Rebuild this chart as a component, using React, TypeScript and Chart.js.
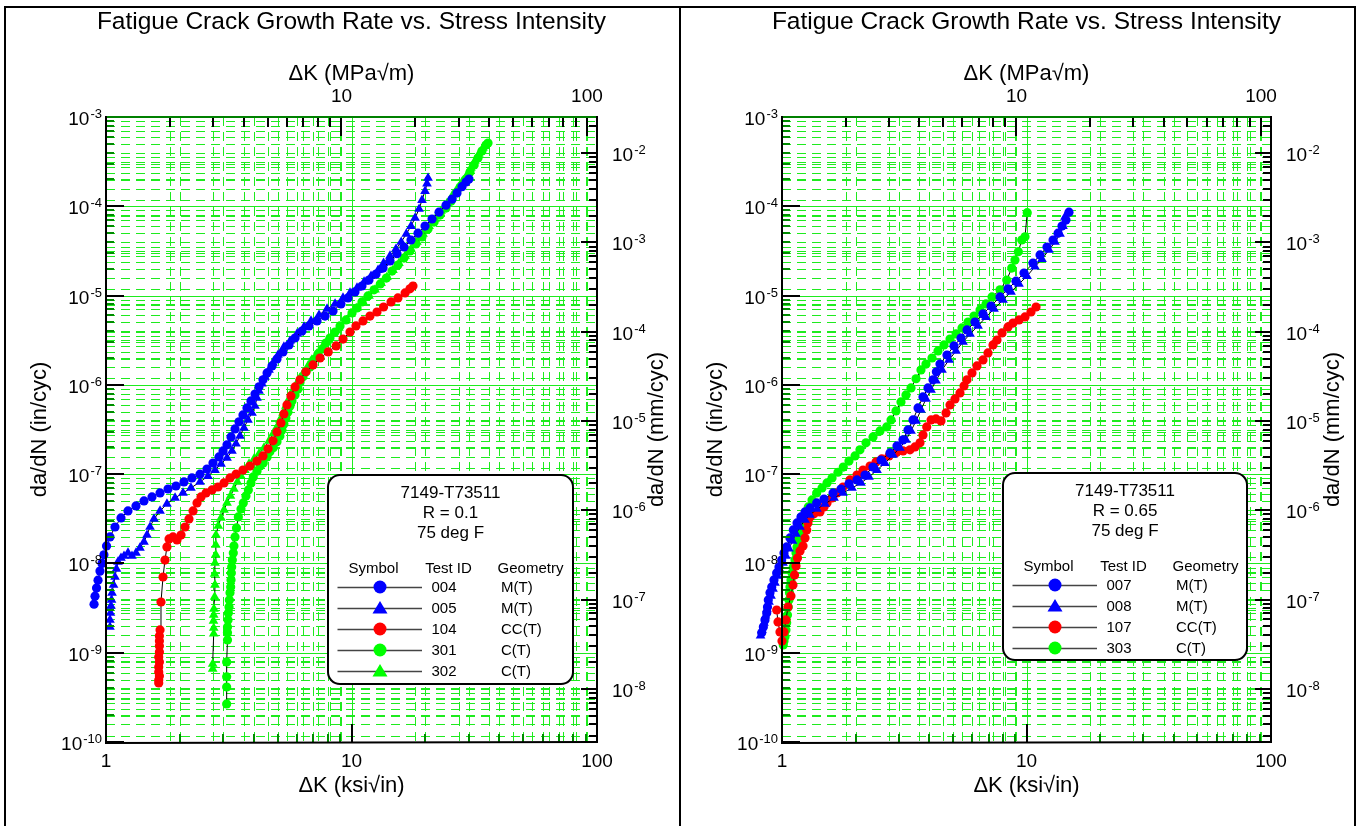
import React, { useEffect, useRef } from 'react';
import { Chart, registerables } from 'chart.js';

Chart.register(...registerables);

const FONT = "'Liberation Sans', Arial, Helvetica, sans-serif";
Chart.defaults.font.family = FONT;

// ---------- axes ----------
const KSI_TO_MPA = 1.0988; // 1 ksi*sqrt(in) = 1.0988 MPa*sqrt(m)
const IN_TO_MM = 25.4;
const K_MIN = 1;
const K_MAX = 100;
const DADN_MIN = 1e-10;
const DADN_MAX = 1e-3;
const TITLE = 'Fatigue Crack Growth Rate vs. Stress Intensity';

const ksiTicks = [1, 2, 3, 4, 5, 6, 7, 8, 9, 10, 20, 30, 40, 50, 60, 70, 80, 90, 100];
const mpaTicks = [2, 3, 4, 5, 6, 7, 8, 9, 10, 20, 30, 40, 50, 60, 70, 80, 90, 100];
const ksiLabels = [1, 10, 100];
const mpaLabels = [10, 100];
const inDecades = [1e-10, 1e-9, 1e-8, 1e-7, 1e-6, 1e-5, 1e-4];
const mmDecades = [1e-9, 1e-8, 1e-7, 1e-6, 1e-5, 1e-4, 1e-3, 1e-2];
const decadeSteps = [1, 2, 3, 4, 5, 6, 7, 8, 9];
const inLabelExp = [-10, -9, -8, -7, -6, -5, -4, -3];
const mmLabelExp = [-8, -7, -6, -5, -4, -3, -2];

// ---------- data: [deltaK (ksi*sqrt(in)), da/dN (in/cycle)] ----------
// R = 0.1
const s004: [number, number][] = [[0.894,3.5e-9],[0.902,4.3e-9],[0.915,5.3e-9],[0.928,6.5e-9],[0.945,8.2e-9],[0.963,1.0e-8],[0.981,1.25e-8],[1.005,1.57e-8],[1.038,1.98e-8],[1.088,2.56e-8],[1.151,3.23e-8],[1.229,3.87e-8],[1.325,4.41e-8],[1.428,5.01e-8],[1.539,5.56e-8],[1.66,6.16e-8],[1.789,6.82e-8],[1.928,7.37e-8],[2.078,8.18e-8],[2.24,9.06e-8],[2.415,1.0e-7],[2.578,1.14e-7],[2.728,1.33e-7],[2.886,1.56e-7],[2.997,1.82e-7],[3.111,2.13e-7],[3.23,2.61e-7],[3.354,3.21e-7],[3.481,3.85e-7],[3.614,4.6e-7],[3.752,5.52e-7],[3.896,6.61e-7],[4.045,7.9e-7],[4.2,9.5e-7],[4.36,1.14e-6],[4.53,1.36e-6],[4.745,1.63e-6],[4.972,1.95e-6],[5.26,2.34e-6],[5.565,2.8e-6],[5.888,3.35e-6],[6.286,4.0e-6],[6.713,4.57e-6],[7.236,5.2e-6],[7.8,5.9e-6],[8.408,6.72e-6],[9.06,8.06e-6],[9.68,9.4e-6],[10.33,1.1e-5],[11.03,1.28e-5],[11.78,1.49e-5],[12.59,1.74e-5],[13.44,2.03e-5],[14.35,2.44e-5],[15.32,2.94e-5],[16.36,3.5e-5],[17.47,4.19e-5],[18.66,5.0e-5],[19.93,6.0e-5],[21.28,7.2e-5],[22.72,8.6e-5],[24.26,1.03e-4],[25.67,1.2e-4],[26.9,1.41e-4],[28.19,1.66e-4],[29.27,1.87e-4],[30.1,2.02e-4]];
const s005: [number, number][] = [[1.038,1.94e-9],[1.038,2.33e-9],[1.043,2.79e-9],[1.048,3.35e-9],[1.053,3.9e-9],[1.058,4.68e-9],[1.073,5.74e-9],[1.088,7.05e-9],[1.103,8.68e-9],[1.119,1.04e-8],[1.151,1.15e-8],[1.184,1.21e-8],[1.229,1.31e-8],[1.276,1.21e-8],[1.325,1.31e-8],[1.375,1.49e-8],[1.428,1.74e-8],[1.469,2.08e-8],[1.511,2.56e-8],[1.569,3.15e-8],[1.66,3.87e-8],[1.771,4.64e-8],[1.911,5.41e-8],[2.059,6.16e-8],[2.218,7.0e-8],[2.415,8.18e-8],[2.603,9.5e-8],[2.781,1.11e-7],[2.941,1.3e-7],[3.111,1.52e-7],[3.259,1.82e-7],[3.385,2.19e-7],[3.513,2.68e-7],[3.647,3.3e-7],[3.788,4.05e-7],[3.933,4.85e-7],[4.045,5.8e-7],[4.121,7.14e-7],[4.2,8.55e-7],[4.318,1.03e-6],[4.44,1.23e-6],[4.613,1.47e-6],[4.79,1.76e-6],[5.019,2.16e-6],[5.305,2.66e-6],[5.617,3.1e-6],[5.998,3.72e-6],[6.405,4.45e-6],[6.84,5.2e-6],[7.373,6.06e-6],[7.95,7.08e-6],[8.57,8.06e-6],[9.235,9.4e-6],[9.86,1.07e-5],[10.53,1.22e-5],[11.25,1.42e-5],[12.01,1.65e-5],[12.83,1.93e-5],[13.51,2.31e-5],[14.35,2.78e-5],[15.18,3.32e-5],[15.94,3.98e-5],[16.72,4.9e-5],[17.47,6.0e-5],[18.15,7.38e-5],[18.85,9.32e-5],[19.37,1.17e-4],[19.93,1.48e-4],[20.3,1.79e-4],[20.5,2.07e-4]];
const s104: [number, number][] = [[1.64,4.58e-10],[1.64,4.95e-10],[1.65,5.5e-10],[1.64,6.09e-10],[1.64,6.92e-10],[1.65,7.88e-10],[1.64,8.96e-10],[1.65,1.02e-9],[1.65,1.19e-9],[1.65,1.35e-9],[1.65,1.54e-9],[1.66,1.8e-9],[1.675,3.7e-9],[1.707,7.05e-9],[1.739,1.09e-8],[1.771,1.53e-8],[1.806,1.88e-8],[1.875,1.98e-8],[1.946,1.83e-8],[2.021,2.08e-8],[2.099,2.56e-8],[2.178,3.15e-8],[2.262,3.87e-8],[2.348,4.76e-8],[2.437,5.56e-8],[2.556,6.16e-8],[2.703,6.65e-8],[2.858,7.18e-8],[3.025,7.97e-8],[3.2,9.06e-8],[3.385,1.0e-7],[3.614,1.11e-7],[3.858,1.23e-7],[4.121,1.4e-7],[4.36,1.6e-7],[4.571,1.92e-7],[4.79,2.36e-7],[4.972,2.97e-7],[5.16,3.75e-7],[5.305,4.73e-7],[5.459,5.96e-7],[5.669,7.51e-7],[5.888,9.47e-7],[6.169,1.14e-6],[6.523,1.4e-6],[6.968,1.67e-6],[7.444,2.0e-6],[8.04,2.34e-6],[8.66,2.73e-6],[9.235,3.26e-6],[9.86,3.91e-6],[10.43,4.57e-6],[11.14,5.2e-6],[11.89,5.9e-6],[12.7,6.55e-6],[13.51,7.45e-6],[14.49,8.48e-6],[15.46,9.4e-6],[16.53,1.07e-5],[17.3,1.19e-5],[17.8,1.28e-5]];
const s301: [number, number][] = [[3.101,2.67e-10],[3.101,4.13e-10],[3.101,5.37e-10],[3.101,7.88e-10],[3.125,1.39e-9],[3.125,1.67e-9],[3.125,1.94e-9],[3.141,2.33e-9],[3.15,2.79e-9],[3.17,3.25e-9],[3.18,3.9e-9],[3.2,4.68e-9],[3.22,5.45e-9],[3.23,6.53e-9],[3.24,7.83e-9],[3.25,9.14e-9],[3.27,1.09e-8],[3.3,1.31e-8],[3.32,1.57e-8],[3.354,1.98e-8],[3.4,2.5e-8],[3.46,3.32e-8],[3.547,4.07e-8],[3.624,4.76e-8],[3.716,5.7e-8],[3.8,6.65e-8],[3.896,7.97e-8],[3.98,9.3e-8],[4.121,1.08e-7],[4.24,1.23e-7],[4.37,1.33e-7],[4.53,1.56e-7],[4.65,1.78e-7],[4.8,1.97e-7],[4.972,2.3e-7],[5.11,2.68e-7],[5.21,3.13e-7],[5.305,3.65e-7],[5.405,4.26e-7],[5.51,4.98e-7],[5.617,5.8e-7],[5.722,6.6e-7],[5.888,7.71e-7],[6.06,9.0e-7],[6.169,1.06e-6],[6.345,1.23e-6],[6.523,1.4e-6],[6.776,1.59e-6],[7.0,1.9e-6],[7.3,2.22e-6],[7.59,2.52e-6],[7.86,2.94e-6],[8.17,3.35e-6],[8.57,3.91e-6],[8.98,4.57e-6],[9.5,5.33e-6],[10.05,6.39e-6],[10.53,7.26e-6],[11.03,8.48e-6],[11.67,9.9e-6],[12.36,1.16e-5],[13.1,1.35e-5],[13.87,1.57e-5],[14.62,1.88e-5],[15.46,2.2e-5],[16.36,2.63e-5],[17.3,3.16e-5],[18.3,3.78e-5],[19.37,4.53e-5],[20.5,5.56e-5],[21.7,6.66e-5],[22.95,7.97e-5],[24.26,9.56e-5],[25.43,1.14e-4],[26.65,1.41e-4],[27.95,1.69e-4],[29.27,2.02e-4],[30.39,2.42e-4],[31.6,2.9e-4],[32.76,3.47e-4],[34.0,4.16e-4],[35.31,4.86e-4],[35.98,5.11e-4]];
const s302: [number, number][] = [[2.72,6.58e-10],[2.72,7.5e-10],[2.746,1.63e-9],[2.746,1.89e-9],[2.74,2.27e-9],[2.746,2.65e-9],[2.752,3.09e-9],[2.77,4.21e-9],[2.78,5.74e-9],[2.77,7.63e-9],[2.78,1.01e-8],[2.8,1.25e-8],[2.8,1.61e-8],[2.805,2.08e-8],[2.866,2.63e-8],[2.941,3.23e-8],[3.025,3.97e-8],[3.111,4.76e-8],[3.214,5.7e-8],[3.32,6.82e-8],[3.43,8.18e-8],[3.547,9.5e-8],[3.68,1.11e-7],[3.825,1.3e-7],[4.008,1.48e-7],[4.2,1.69e-7],[4.4,1.97e-7],[4.613,2.36e-7],[4.79,2.83e-7],[4.972,3.38e-7],[5.11,4.05e-7],[5.26,4.85e-7],[5.405,5.8e-7],[5.565,6.96e-7],[5.722,8.33e-7],[5.943,1.0e-6],[6.169,1.2e-6],[6.405,1.4e-6],[6.65,1.63e-6],[6.9,1.9e-6],[7.236,2.22e-6],[7.59,2.59e-6],[7.95,3.1e-6],[8.408,3.72e-6],[8.88,4.34e-6],[9.41,5.2e-6],[9.95,6.23e-6],[10.53,7.26e-6],[11.14,8.48e-6],[11.78,9.9e-6],[12.47,1.16e-5],[13.2,1.38e-5],[13.94,1.61e-5],[14.75,1.93e-5],[15.6,2.31e-5],[16.53,2.78e-5],[17.47,3.32e-5],[18.48,3.98e-5],[19.56,4.9e-5],[20.7,6.0e-5],[21.9,7.2e-5],[23.16,8.85e-5],[24.49,1.08e-4],[25.67,1.3e-4],[26.9,1.56e-4],[28.19,1.87e-4],[29.54,2.24e-4],[30.63,2.68e-4],[31.8,3.22e-4],[33.0,3.85e-4],[34.3,4.5e-4]];

// R = 0.65
const s007: [number, number][] = [[0.826,1.67e-9],[0.839,1.94e-9],[0.852,2.33e-9],[0.866,2.79e-9],[0.872,3.25e-9],[0.879,3.9e-9],[0.893,4.68e-9],[0.908,5.45e-9],[0.927,6.53e-9],[0.951,7.83e-9],[0.972,9.14e-9],[0.997,1.09e-8],[1.019,1.31e-8],[1.045,1.53e-8],[1.078,1.93e-8],[1.112,2.37e-8],[1.152,2.84e-8],[1.196,3.32e-8],[1.242,3.77e-8],[1.302,4.18e-8],[1.386,4.76e-8],[1.485,5.27e-8],[1.617,6.16e-8],[1.743,6.82e-8],[1.879,7.8e-8],[2.026,8.61e-8],[2.185,9.75e-8],[2.356,1.2e-7],[2.541,1.44e-7],[2.765,1.73e-7],[2.953,2.07e-7],[3.125,2.42e-7],[3.276,3.13e-7],[3.434,4.05e-7],[3.6,5.52e-7],[3.773,7.32e-7],[3.955,9.23e-7],[4.146,1.14e-6],[4.28,1.4e-6],[4.428,1.71e-6],[4.73,2.16e-6],[5.052,2.73e-6],[5.397,3.35e-6],[5.711,4.12e-6],[6.156,5.06e-6],[6.638,6.23e-6],[7.159,7.64e-6],[7.792,9.65e-6],[8.402,1.19e-5],[9.061,1.45e-5],[9.768,1.79e-5],[10.63,2.31e-5],[11.36,2.85e-5],[12.13,3.5e-5],[12.84,4.19e-5],[13.46,5.0e-5],[13.97,6.0e-5],[14.5,7.01e-5],[14.92,8.6e-5]];
const s008: [number, number][] = [[0.817,1.55e-9],[0.828,1.8e-9],[0.844,2.16e-9],[0.856,2.59e-9],[0.868,3.09e-9],[0.885,3.7e-9],[0.902,4.32e-9],[0.919,5.18e-9],[0.936,6.05e-9],[0.958,7.24e-9],[0.981,8.46e-9],[1.009,1.01e-8],[1.038,1.21e-8],[1.068,1.46e-8],[1.104,1.78e-8],[1.141,2.14e-8],[1.185,2.56e-8],[1.242,3.07e-8],[1.302,3.49e-8],[1.39,4.07e-8],[1.5,4.64e-8],[1.632,5.41e-8],[1.776,6.16e-8],[1.933,7.0e-8],[2.104,7.97e-8],[2.27,9.3e-8],[2.446,1.11e-7],[2.638,1.33e-7],[2.844,1.64e-7],[3.038,1.97e-7],[3.215,2.42e-7],[3.37,3.05e-7],[3.533,3.95e-7],[3.702,5.24e-7],[3.881,6.96e-7],[4.07,8.77e-7],[4.264,1.11e-6],[4.512,1.47e-6],[4.82,1.9e-6],[5.149,2.4e-6],[5.5,3.02e-6],[5.874,3.72e-6],[6.335,4.57e-6],[6.83,5.74e-6],[7.365,7.08e-6],[8.016,8.93e-6],[8.644,1.1e-5],[9.318,1.35e-5],[10.05,1.65e-5],[10.83,2.11e-5],[11.57,2.56e-5],[12.36,3.24e-5],[13.08,3.98e-5],[13.71,4.9e-5],[14.1,6.0e-5],[14.37,7.6e-5]];
const s107: [number, number][] = [[0.951,3.01e-9],[0.963,2.21e-9],[0.981,1.71e-9],[1.0,1.35e-9],[1.019,1.71e-9],[1.038,2.33e-9],[1.058,3.25e-9],[1.088,4.32e-9],[1.109,5.74e-9],[1.125,7.44e-9],[1.141,9.37e-9],[1.157,1.15e-8],[1.185,1.38e-8],[1.219,1.57e-8],[1.242,1.93e-8],[1.262,2.37e-8],[1.277,2.84e-8],[1.302,3.32e-8],[1.352,3.59e-8],[1.43,3.77e-8],[1.485,4.29e-8],[1.528,4.76e-8],[1.602,5.41e-8],[1.679,6.16e-8],[1.776,7.18e-8],[1.897,8.61e-8],[2.026,9.75e-8],[2.145,1.11e-7],[2.291,1.23e-7],[2.424,1.37e-7],[2.559,1.48e-7],[2.739,1.6e-7],[2.926,1.74e-7],[3.125,1.82e-7],[3.339,1.87e-7],[3.499,2.02e-7],[3.668,2.24e-7],[3.773,2.75e-7],[3.907,3.38e-7],[4.07,4.05e-7],[4.264,4.15e-7],[4.47,3.95e-7],[4.686,4.85e-7],[4.866,5.96e-7],[5.1,6.96e-7],[5.346,8.12e-7],[5.552,9.72e-7],[5.711,1.14e-6],[5.985,1.36e-6],[6.273,1.63e-6],[6.638,1.9e-6],[6.958,2.28e-6],[7.295,2.8e-6],[7.574,3.18e-6],[7.94,3.82e-6],[8.402,4.45e-6],[8.806,4.92e-6],[9.318,5.33e-6],[9.86,5.76e-6],[10.43,6.55e-6],[10.94,7.45e-6]];
const s303: [number, number][] = [[1.012,1.22e-9],[1.019,1.35e-9],[1.029,1.51e-9],[1.038,1.8e-9],[1.045,2.16e-9],[1.053,2.65e-9],[1.061,3.25e-9],[1.068,3.9e-9],[1.073,4.68e-9],[1.078,5.45e-9],[1.088,6.53e-9],[1.099,7.83e-9],[1.112,9.14e-9],[1.13,1.09e-8],[1.141,1.31e-8],[1.152,1.53e-8],[1.168,1.83e-8],[1.185,2.2e-8],[1.204,2.56e-8],[1.23,3.07e-8],[1.254,3.68e-8],[1.281,4.29e-8],[1.327,5.14e-8],[1.386,6.16e-8],[1.458,7.0e-8],[1.528,7.97e-8],[1.602,9.06e-8],[1.694,1.05e-7],[1.781,1.2e-7],[1.879,1.4e-7],[1.989,1.6e-7],[2.084,1.87e-7],[2.206,2.24e-7],[2.356,2.61e-7],[2.517,3.05e-7],[2.681,3.38e-7],[2.792,4.05e-7],[2.926,5.11e-7],[3.067,6.44e-7],[3.215,7.71e-7],[3.37,9.23e-7],[3.533,1.17e-6],[3.702,1.47e-6],[3.881,1.71e-6],[4.107,2.0e-6],[4.345,2.4e-6],[4.598,2.8e-6],[4.866,3.26e-6],[5.149,3.72e-6],[5.448,4.34e-6],[5.765,5.06e-6],[6.1,5.9e-6],[6.455,6.9e-6],[6.83,8.06e-6],[7.227,9.65e-6],[7.792,1.16e-5],[8.3,1.49e-5],[8.7,2.03e-5],[8.97,2.5e-5],[9.26,3.1e-5],[9.56,4.19e-5],[9.86,4.56e-5],[10.07,8.47e-5]];

// ---------- legend text ----------
const headerR01 = ['7149-T73511', 'R = 0.1', '75 deg F'];
const headerR065 = ['7149-T73511', 'R = 0.65', '75 deg F'];
const testIdsR01 = ['004', '005', '104', '301', '302'];
const geomR01 = ['M(T)', 'M(T)', 'CC(T)', 'C(T)', 'C(T)'];
const testIdsR065 = ['007', '008', '107', '303'];
const geomR065 = ['M(T)', 'M(T)', 'CC(T)', 'C(T)'];

const BLUE = '#0000ff';
const RED = '#ff0000';
const GREEN = '#00ff00';
const GRID_GREEN = 'rgb(30,235,30)';
const MINOR_TICK = 'rgb(0,140,0)';
const DASH = [9, 6];

type Series = { id: string; pts: [number, number][]; color: string; shape: 'circle' | 'triangle' };

const seriesR01: Series[] = [
  { id: '004', pts: s004, color: BLUE, shape: 'circle' },
  { id: '005', pts: s005, color: BLUE, shape: 'triangle' },
  { id: '104', pts: s104, color: RED, shape: 'circle' },
  { id: '301', pts: s301, color: GREEN, shape: 'circle' },
  { id: '302', pts: s302, color: GREEN, shape: 'triangle' },
];
const seriesR065: Series[] = [
  { id: '007', pts: s007, color: BLUE, shape: 'circle' },
  { id: '008', pts: s008, color: BLUE, shape: 'triangle' },
  { id: '107', pts: s107, color: RED, shape: 'circle' },
  { id: '303', pts: s303, color: GREEN, shape: 'circle' },
];

const inTicks = inDecades.flatMap((d) => decadeSteps.map((m) => m * d)).concat([DADN_MAX]);
const mmTicks = mmDecades
  .flatMap((d) => decadeSteps.map((m) => m * d))
  .filter((v) => v >= DADN_MIN * IN_TO_MM * 0.999 && v <= DADN_MAX * IN_TO_MM * 1.001);

const isDecade = (v: number) => {
  const l = Math.log10(v);
  return Math.abs(l - Math.round(l)) < 1e-6;
};

type PanelDef = {
  series: Series[];
  header: string[];
  ids: string[];
  geoms: string[];
  box: { x: number; y: number; w: number; h: number };
};

function drawMarker(ctx: CanvasRenderingContext2D, shape: string, color: string, cx: number, cy: number) {
  ctx.fillStyle = color;
  ctx.beginPath();
  if (shape === 'triangle') {
    ctx.moveTo(cx, cy - 7);
    ctx.lineTo(cx + 7.5, cy + 5.5);
    ctx.lineTo(cx - 7.5, cy + 5.5);
    ctx.closePath();
  } else {
    ctx.arc(cx, cy, 6.5, 0, Math.PI * 2);
  }
  ctx.fill();
}

function drawExpLabel(ctx: CanvasRenderingContext2D, x: number, y: number, exp: number, align: 'left' | 'right') {
  const base = '10';
  const sup = String(exp);
  ctx.font = `19px ${FONT}`;
  const wb = ctx.measureText(base).width;
  ctx.font = `13px ${FONT}`;
  const ws = ctx.measureText(sup).width;
  const start = align === 'right' ? x - wb - ws - 1 : x;
  ctx.fillStyle = '#000';
  ctx.textAlign = 'left';
  ctx.textBaseline = 'alphabetic';
  ctx.font = `19px ${FONT}`;
  ctx.fillText(base, start, y + 8);
  ctx.font = `13px ${FONT}`;
  ctx.fillText(sup, start + wb + 1, y + 1);
}

function makePlugin(panel: PanelDef) {
  let saved: any = null;
  return {
    id: 'fcgDecor',
    beforeDatasetsDraw(chart: any) {
      const { ctx, chartArea: ca, scales } = chart;
      const L = Math.round(ca.left), R = Math.round(ca.right), T = Math.round(ca.top), B = Math.round(ca.bottom);
      ctx.save();
      ctx.beginPath();
      ctx.rect(L, T, R - L, B - T);
      ctx.clip();
      ctx.lineWidth = 1;
      ctx.strokeStyle = GRID_GREEN;
      const items: [string, boolean, boolean][] = [
        ['x2', true, false],
        ['y2', false, false],
        ['x', true, true],
        ['y', false, true],
      ];
      ctx.setLineDash(DASH);
      for (const [id, vertical, solidMajor] of items) {
        const s = scales[id];
        for (const t of s.ticks) {
          if (solidMajor && isDecade(t.value)) continue;
          const p = Math.round(s.getPixelForValue(t.value)) + 0.5;
          ctx.beginPath();
          if (vertical) { ctx.moveTo(p, T); ctx.lineTo(p, B); } else { ctx.moveTo(L, p); ctx.lineTo(R, p); }
          ctx.stroke();
        }
      }
      ctx.setLineDash([]);
      for (const [id, vertical, solidMajor] of items) {
        if (!solidMajor) continue;
        const s = scales[id];
        for (const t of s.ticks) {
          if (!isDecade(t.value)) continue;
          const p = Math.round(s.getPixelForValue(t.value)) + 0.5;
          ctx.beginPath();
          if (vertical) { ctx.moveTo(p, T); ctx.lineTo(p, B); } else { ctx.moveTo(L, p); ctx.lineTo(R, p); }
          ctx.stroke();
        }
      }
      ctx.restore();
      // let markers just outside the frame (deltaK < 1) be drawn, as in the original plot
      saved = { left: ca.left, bottom: ca.bottom };
      ca.left = ca.left - 40;
      ca.bottom = ca.bottom + 10;
    },
    afterDatasetsDraw(chart: any) {
      if (saved) {
        chart.chartArea.left = saved.left;
        chart.chartArea.bottom = saved.bottom;
        saved = null;
      }
      const { ctx, chartArea: ca, scales } = chart;
      const L = Math.round(ca.left), R = Math.round(ca.right), T = Math.round(ca.top), B = Math.round(ca.bottom);
      ctx.save();
      ctx.setLineDash([]);
      ctx.lineWidth = 2;
      const marks = (id: string, side: string, majLen: number, minLen: number, majColor: string, minColor: string) => {
        const s = scales[id];
        for (const t of s.ticks) {
          const major = isDecade(t.value);
          const p = Math.round(s.getPixelForValue(t.value));
          const len = major ? majLen : minLen;
          ctx.strokeStyle = major ? majColor : minColor;
          ctx.beginPath();
          if (side === 'left') { ctx.moveTo(L, p); ctx.lineTo(L + len, p); }
          if (side === 'right') { ctx.moveTo(R, p); ctx.lineTo(R - len, p); }
          if (side === 'top') { ctx.moveTo(p, T); ctx.lineTo(p, T + len); }
          if (side === 'bottom') { ctx.moveTo(p, B); ctx.lineTo(p, B - len); }
          ctx.stroke();
        }
      };
      marks('y', 'left', 18, 8, '#000', MINOR_TICK);
      marks('x', 'bottom', 18, 8, '#000', MINOR_TICK);
      marks('x2', 'top', 19, 10, '#000', '#000');
      marks('y2', 'right', 16, 8, '#000', '#000');
      // frame
      ctx.strokeStyle = 'rgb(0,128,0)';
      ctx.beginPath(); ctx.moveTo(L, T); ctx.lineTo(R, T); ctx.stroke();
      ctx.strokeStyle = '#000';
      ctx.beginPath(); ctx.moveTo(L, T - 1); ctx.lineTo(L, B + 1); ctx.lineTo(R + 1, B); ctx.stroke();
      ctx.beginPath(); ctx.moveTo(R, T - 1); ctx.lineTo(R, B + 1); ctx.stroke();

      // legend box
      const { x, y, w, h } = panel.box;
      ctx.beginPath();
      if ((ctx as any).roundRect) (ctx as any).roundRect(x, y, w, h, 12); else ctx.rect(x, y, w, h);
      ctx.fillStyle = '#fff';
      ctx.fill();
      ctx.lineWidth = 2;
      ctx.strokeStyle = '#000';
      ctx.stroke();
      ctx.fillStyle = '#000';
      ctx.textAlign = 'center';
      ctx.textBaseline = 'middle';
      ctx.font = `17px ${FONT}`;
      panel.header.forEach((s, i) => ctx.fillText(s, x + w / 2, y + 18.5 + 20 * i));
      ctx.font = `15px ${FONT}`;
      ctx.fillText('Symbol', x + 45.5, y + 93.5);
      ctx.fillText('Test ID', x + 120.5, y + 93.5);
      ctx.fillText('Geometry', x + 202.5, y + 93.5);
      panel.series.forEach((s, i) => {
        const ry = y + 112 + 21 * i;
        ctx.strokeStyle = '#444';
        ctx.lineWidth = 1.5;
        ctx.beginPath(); ctx.moveTo(x + 9.5, ry + 0.5); ctx.lineTo(x + 94, ry + 0.5); ctx.stroke();
        drawMarker(ctx, s.shape, s.color, x + 52, ry);
        ctx.fillStyle = '#000';
        ctx.textAlign = 'left';
        ctx.fillText(panel.ids[i], x + 103.5, ry + 1);
        ctx.fillText(panel.geoms[i], x + 173, ry + 1);
      });

      // y tick labels with superscripts
      for (const e of inLabelExp) drawExpLabel(ctx, L - 4, scales.y.getPixelForValue(Math.pow(10, e)), e, 'right');
      for (const e of mmLabelExp) drawExpLabel(ctx, R + 15, scales.y2.getPixelForValue(Math.pow(10, e)), e, 'left');

      // right axis title (reads bottom to top)
      ctx.save();
      ctx.translate(651, (T + B) / 2);
      ctx.rotate(-Math.PI / 2);
      ctx.font = `22px ${FONT}`;
      ctx.fillStyle = '#000';
      ctx.textAlign = 'center';
      ctx.textBaseline = 'middle';
      ctx.fillText('da/dN (mm/cyc)', 0, 0);
      ctx.restore();

      // chart title, centred over the plot
      ctx.font = `24.5px ${FONT}`;
      ctx.fillStyle = '#000';
      ctx.textAlign = 'center';
      ctx.textBaseline = 'middle';
      ctx.fillText(TITLE, (L + R) / 2, 14.5);
      ctx.restore();
    },
  };
}

const fixRange = (lo: number, hi: number) => (s: any) => {
  s.min = lo;
  s.max = hi;
};

function makeConfig(panel: PanelDef) {
  const plotRightGap = 83;
  const datasets = panel.series.map((s) => ({
    label: s.id,
    data: s.pts.map(([k, v]) => ({ x: k, y: v })),
    showLine: true,
    borderColor: '#000',
    borderWidth: 1,
    tension: 0,
    pointStyle: s.shape,
    pointRadius: s.shape === 'triangle' ? 5.6 : 4.6,
    pointBackgroundColor: s.color,
    pointBorderColor: s.color,
    pointBorderWidth: 0,
    clip: false as any,
    xAxisID: 'x',
    yAxisID: 'y',
  }));
  const titleFont = { size: 22, family: FONT };
  return {
    type: 'scatter' as const,
    data: { datasets },
    plugins: [makePlugin(panel)],
    options: {
      responsive: false,
      devicePixelRatio: 1,
      animation: false as const,
      events: [],
      layout: { padding: 0 },
      plugins: {
        legend: { display: false },
        tooltip: { enabled: false },
        title: { display: false },
      },
      scales: {
        x: {
          type: 'logarithmic' as const,
          position: 'bottom' as const,
          bounds: 'data' as const,
          afterDataLimits: fixRange(K_MIN, K_MAX),
          afterBuildTicks: (s: any) => { s.ticks = ksiTicks.map((v) => ({ value: v })); },
          afterFit: (s: any) => { s.height = 84; },
          grid: { display: false, drawTicks: false },
          border: { display: false },
          ticks: {
            autoSkip: false, maxRotation: 0, padding: 8, color: '#000', font: { size: 19, family: FONT },
            callback: (v: any) => (ksiLabels.includes(Number(v)) ? String(v) : ''),
          },
          title: { display: true, text: 'ΔK (ksi√in)', color: '#000', font: titleFont, padding: { top: 0, bottom: 27 } },
        },
        x2: {
          type: 'logarithmic' as const,
          position: 'top' as const,
          bounds: 'data' as const,
          afterDataLimits: fixRange(K_MIN * KSI_TO_MPA, K_MAX * KSI_TO_MPA),
          afterBuildTicks: (s: any) => { s.ticks = mpaTicks.map((v) => ({ value: v })); },
          afterFit: (s: any) => { s.height = 109; },
          grid: { display: false, drawTicks: false },
          border: { display: false },
          ticks: {
            autoSkip: false, maxRotation: 0, padding: 9, color: '#000', font: { size: 19, family: FONT },
            callback: (v: any) => (mpaLabels.includes(Number(v)) ? String(v) : ''),
          },
          title: { display: true, text: 'ΔK (MPa√m)', color: '#000', font: titleFont, padding: { top: 53, bottom: 0 } },
        },
        y: {
          type: 'logarithmic' as const,
          position: 'left' as const,
          bounds: 'data' as const,
          afterDataLimits: fixRange(DADN_MIN, DADN_MAX),
          afterBuildTicks: (s: any) => { s.ticks = inTicks.map((v) => ({ value: v })); },
          afterFit: (s: any) => { s.width = 100; },
          grid: { display: false, drawTicks: false },
          border: { display: false },
          ticks: { display: false },
          title: { display: true, text: 'da/dN (in/cyc)', color: '#000', font: titleFont, padding: { top: 21, bottom: 0 } },
        },
        y2: {
          type: 'logarithmic' as const,
          position: 'right' as const,
          bounds: 'data' as const,
          afterDataLimits: fixRange(DADN_MIN * IN_TO_MM, DADN_MAX * IN_TO_MM),
          afterBuildTicks: (s: any) => { s.ticks = mmTicks.map((v) => ({ value: v })); },
          afterFit: (s: any) => { s.width = plotRightGap; },
          grid: { display: false, drawTicks: false },
          border: { display: false },
          ticks: { display: false },
          title: { display: false },
        },
      },
    },
  };
}

const panelR01: PanelDef = {
  series: seriesR01,
  header: headerR01,
  ids: testIdsR01,
  geoms: geomR01,
  box: { x: 322, y: 467, w: 245, h: 209 },
};
const panelR065: PanelDef = {
  series: seriesR065,
  header: headerR065,
  ids: testIdsR065,
  geoms: geomR065,
  box: { x: 321, y: 465, w: 244, h: 187 },
};

export default function App() {
  const leftRef = useRef<HTMLCanvasElement>(null);
  const rightRef = useRef<HTMLCanvasElement>(null);
  useEffect(() => {
    const c1 = new Chart(leftRef.current as HTMLCanvasElement, makeConfig(panelR01) as any);
    const c2 = new Chart(rightRef.current as HTMLCanvasElement, makeConfig(panelR065) as any);
    return () => {
      c1.destroy();
      c2.destroy();
    };
  }, []);
  return (
    <div style={{ position: 'absolute', left: 0, top: 0, width: 1359, height: 826, overflow: 'hidden', background: '#fff' }}>
      <div style={{ position: 'absolute', left: 4, top: 6, width: 677, height: 840, border: '2px solid #000', boxSizing: 'border-box' }} />
      <div style={{ position: 'absolute', left: 679, top: 6, width: 677, height: 840, border: '2px solid #000', boxSizing: 'border-box' }} />
      <canvas ref={leftRef} width={674} height={818} style={{ position: 'absolute', left: 6, top: 8, width: 674, height: 818 }} />
      <canvas ref={rightRef} width={672} height={818} style={{ position: 'absolute', left: 682, top: 8, width: 672, height: 818 }} />
    </div>
  );
}
